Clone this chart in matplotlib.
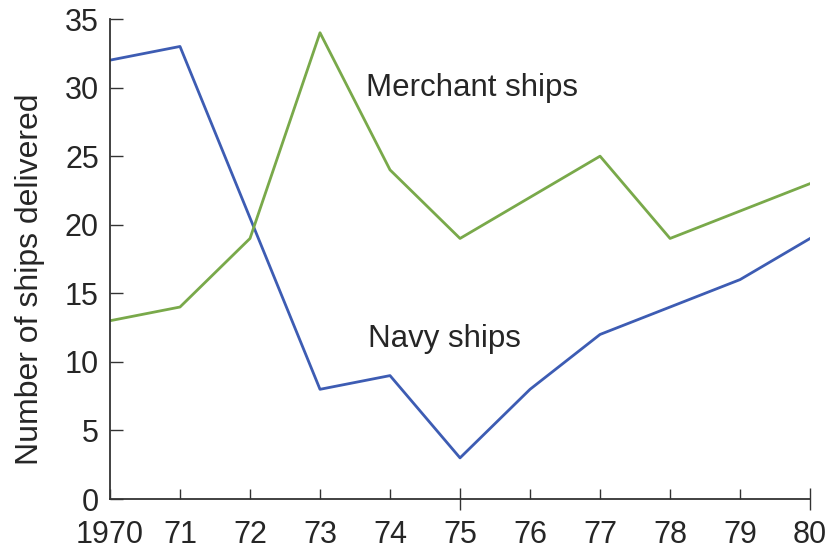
import matplotlib.pyplot as plt

years = [1970, 1971, 1972, 1973, 1974, 1975, 1976, 1977, 1978, 1979, 1980]
navy = [32, 33, 20.5, 8, 9, 3, 8, 12, 14, 16, 19]
merchant = [13, 14, 19, 34, 24, 19, 22, 25, 19, 21, 23]
x_labels = ["1970", "71", "72", "73", "74", "75", "76", "77", "78", "79", "80"]
y_ticks = [0, 5, 10, 15, 20, 25, 30, 35]

plt.rcParams['font.family'] = ['Liberation Sans', 'DejaVu Sans']

fig = plt.figure(figsize=(8.3, 5.53), dpi=100)
ax = fig.add_axes([0.1325, 0.0976, 0.8435, 0.868])

barva_navy = "#3d5cb3"
barva_merchant = "#79a94a"
barva_osi = "#333333"
barva_teksta = "#262626"

ax.plot(years, navy, color=barva_navy, linewidth=2.0, solid_joinstyle='round')
ax.plot(years, merchant, color=barva_merchant, linewidth=2.0, solid_joinstyle='round')

ax.text(1973.65, 30, "Merchant ships", fontsize=22.5, color=barva_teksta, va='center', ha='left')
ax.text(1973.69, 11.7, "Navy ships", fontsize=22.5, color=barva_teksta, va='center', ha='left')

ax.set_xlim(1970, 1980)
ax.set_ylim(0, 35)
ax.set_xticks(years)
ax.set_xticklabels(x_labels)
ax.set_yticks(y_ticks)

for s in ['top', 'right']:
    ax.spines[s].set_visible(False)
for s in ['left', 'bottom']:
    ax.spines[s].set_color(barva_osi)
    ax.spines[s].set_linewidth(1.3)

ax.tick_params(axis='both', direction='in', colors=barva_osi, labelcolor=barva_teksta,
               labelsize=22, width=1.0)
ax.tick_params(axis='x', length=7, pad=15)
ax.tick_params(axis='y', length=9, pad=8)

# daljse oznake pri 75 in 80 (cez os)
for i in (5, 10):
    t = ax.xaxis.get_major_ticks()[i]
    t.tick1line.set_marker('|')
    t.tick1line.set_markersize(16)

ax.set_ylabel("Number of ships delivered", fontsize=23, color=barva_teksta)
ax.yaxis.set_label_coords(-0.093, 0.458)

fig.savefig("out.png", dpi=100, facecolor='white')
